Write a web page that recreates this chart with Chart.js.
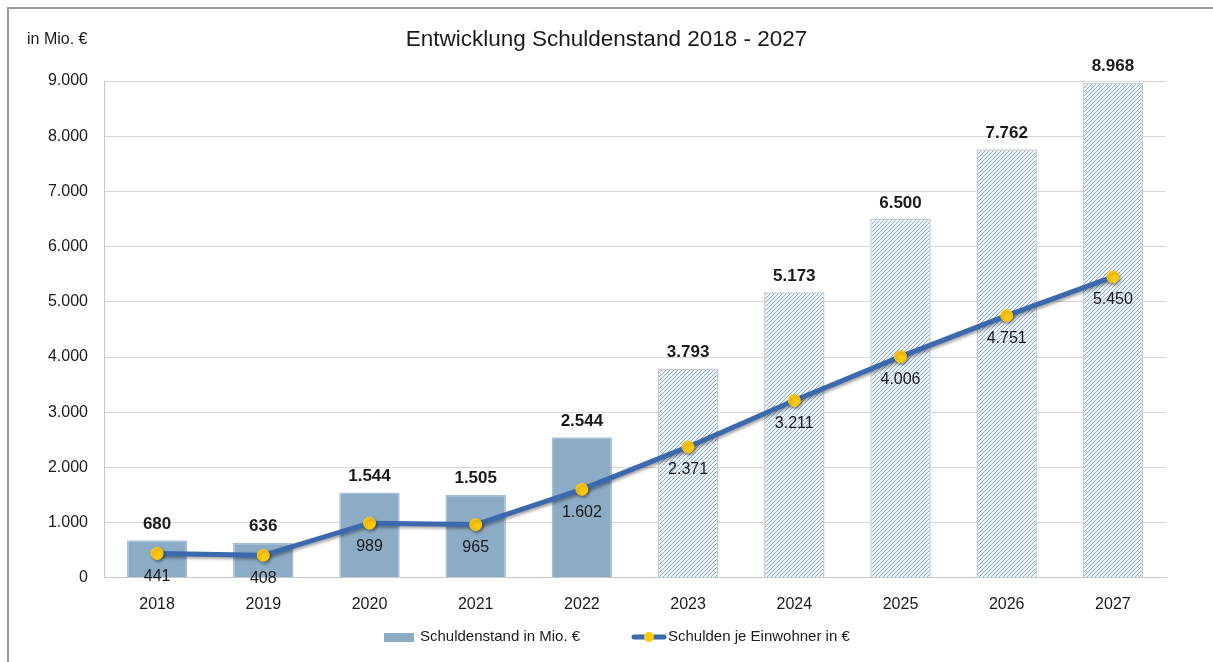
<!DOCTYPE html>
<html lang="de">
<head>
<meta charset="utf-8">
<title>Entwicklung Schuldenstand 2018 - 2027</title>
<script src="https://cdn.jsdelivr.net/npm/chart.js@4.4.1/dist/chart.umd.min.js"></script>
<style>
  html, body { margin: 0; padding: 0; background: #fff; }
  #wrap { position: relative; width: 1213px; height: 662px; overflow: hidden; }
  #frame {
    position: absolute; left: 7px; top: 7px; width: 1300px; height: 800px;
    border-left: 2px solid #9a9a9a; border-top: 2px solid #9a9a9a;
    pointer-events: none;
  }
  canvas { position: absolute; left: 0; top: 0; }
</style>
</head>
<body>
<div id="wrap">
  <canvas id="chart" width="1213" height="662"></canvas>
  <div id="frame"></div>
</div>
<script>
// ─── Data ───────────────────────────────────────────────────────────────────
const YEARS = ['2018', '2019', '2020', '2021', '2022', '2023', '2024', '2025', '2026', '2027'];
const SCHULDENSTAND = [680, 636, 1544, 1505, 2544, 3793, 5173, 6500, 7762, 8968];   // Mio. €
const JE_EINWOHNER = [441, 408, 989, 965, 1602, 2371, 3211, 4006, 4751, 5450];      // €
const FIRST_PLAN_YEAR = 2023; // from here on the bars are hatched (planned values)
const Y_TICKS = { min: 0, max: 9000, step: 1000 };

// ─── Colours ────────────────────────────────────────────────────────────────
const BAR_COLOR = '#8cabc5';
const BAR_BORDER = '#a9c0d3';
const PLAN_BORDER = '#c8cdd2';
const LINE_COLOR = '#3c69ae';
const POINT_COLOR = '#ffc90e';
const FONT = "'Liberation Sans', Arial, sans-serif";

// German thousands separator: 8968 -> "8.968"
function fmt(v) {
  return String(Math.round(v)).replace(/\B(?=(\d{3})+(?!\d))/g, '.');
}

// Diagonal hatch used for the planned years.
function hatchPattern() {
  const size = 4;
  const c = document.createElement('canvas');
  c.width = size; c.height = size;
  const g = c.getContext('2d');
  g.fillStyle = '#eef4f9';
  g.fillRect(0, 0, size, size);
  g.strokeStyle = '#8fb0cc';
  g.lineWidth = 1;
  g.beginPath();
  g.moveTo(0, size); g.lineTo(size, 0);
  g.moveTo(-1, 1); g.lineTo(1, -1);
  g.moveTo(size - 1, size + 1); g.lineTo(size + 1, size - 1);
  g.stroke();
  return document.getElementById('chart').getContext('2d').createPattern(c, 'repeat');
}

const HATCH = hatchPattern();
const isPlan = (i) => Number(YEARS[i]) >= FIRST_PLAN_YEAR;

// ─── Plugins ────────────────────────────────────────────────────────────────
// Soft shadow under the line series.
const lineShadow = {
  id: 'lineShadow',
  beforeDatasetDraw(chart, args) {
    if (chart.data.datasets[args.index].type !== 'line') return;
    const ctx = chart.ctx;
    ctx.save();
    ctx.shadowColor = 'rgba(0,0,0,0.35)';
    ctx.shadowBlur = 3;
    ctx.shadowOffsetX = 1.5;
    ctx.shadowOffsetY = 2;
  },
  afterDatasetDraw(chart, args) {
    if (chart.data.datasets[args.index].type !== 'line') return;
    chart.ctx.restore();
  },
};

// Value labels: bold above the bars, regular below the line points.
const valueLabels = {
  id: 'valueLabels',
  afterDatasetsDraw(chart) {
    const ctx = chart.ctx;
    ctx.save();
    ctx.textAlign = 'center';
    ctx.textBaseline = 'middle';
    ctx.fillStyle = '#1a1a1a';
    chart.data.datasets.forEach((ds, di) => {
      const meta = chart.getDatasetMeta(di);
      meta.data.forEach((el, i) => {
        if (ds.type === 'line') {
          ctx.font = '16px ' + FONT;
          ctx.fillText(fmt(ds.data[i]), el.x, el.y + 23);
        } else {
          ctx.font = 'bold 17px ' + FONT;
          ctx.fillText(fmt(ds.data[i]), el.x, el.y - 16);
        }
      });
    });
    ctx.restore();
  },
};

// Unit label top-left and the Excel-style legend below the axis.
const decorations = {
  id: 'decorations',
  afterDraw(chart) {
    const ctx = chart.ctx;
    const bars = chart.data.datasets.find((ds) => ds.type === 'bar');
    const line = chart.data.datasets.find((ds) => ds.type === 'line');
    ctx.save();
    ctx.fillStyle = '#1a1a1a';
    ctx.font = '16px ' + FONT;
    ctx.textBaseline = 'middle';
    ctx.textAlign = 'left';
    ctx.fillText('in Mio. €', 27, 40);

    const y = 637;
    ctx.font = '15px ' + FONT;
    // bar entry
    ctx.fillStyle = BAR_COLOR;
    ctx.fillRect(384, y - 4, 30, 9);
    ctx.fillStyle = '#1a1a1a';
    ctx.fillText(bars.label, 420, y);
    // line entry
    ctx.strokeStyle = LINE_COLOR;
    ctx.lineWidth = 5;
    ctx.lineCap = 'round';
    ctx.beginPath();
    ctx.moveTo(634, y); ctx.lineTo(664, y);
    ctx.stroke();
    ctx.fillStyle = POINT_COLOR;
    ctx.beginPath();
    ctx.arc(649, y, 5, 0, Math.PI * 2);
    ctx.fill();
    ctx.fillStyle = '#1a1a1a';
    ctx.fillText(line.label, 668, y);
    ctx.restore();
  },
};

// ─── Chart ──────────────────────────────────────────────────────────────────
new Chart(document.getElementById('chart'), {
  type: 'bar',
  data: {
    labels: YEARS,
    datasets: [
      {
        type: 'line',
        label: 'Schulden je Einwohner in €',
        data: JE_EINWOHNER,
        borderColor: LINE_COLOR,
        borderWidth: 5,
        backgroundColor: POINT_COLOR,
        pointBackgroundColor: POINT_COLOR,
        pointBorderColor: POINT_COLOR,
        pointRadius: 6,
        pointBorderWidth: 1,
        tension: 0,
        order: 0,
      },
      {
        type: 'bar',
        label: 'Schuldenstand in Mio. €',
        data: SCHULDENSTAND,
        backgroundColor: YEARS.map((_, i) => (isPlan(i) ? HATCH : BAR_COLOR)),
        borderColor: YEARS.map((_, i) => (isPlan(i) ? PLAN_BORDER : BAR_BORDER)),
        borderWidth: 1.5,
        barPercentage: 0.57,
        categoryPercentage: 1,
        order: 1,
      },
    ],
  },
  options: {
    responsive: false,
    animation: false,
    layout: { padding: { top: 0, left: 0, right: 0, bottom: 31 } },
    plugins: {
      legend: { display: false },
      tooltip: { enabled: false },
      title: {
        display: true,
        text: 'Entwicklung Schuldenstand 2018 - 2027',
        color: '#1a1a1a',
        font: { family: FONT, size: 22.5, weight: 'normal', lineHeight: 1.2 },
        padding: { top: 26, bottom: 28 },
      },
    },
    scales: {
      x: {
        grid: { display: false, drawTicks: false },
        border: { display: true, color: '#c8c8c8', width: 1 },
        ticks: { color: '#1a1a1a', padding: 17, font: { family: FONT, size: 16 } },
      },
      y: {
        min: Y_TICKS.min,
        max: Y_TICKS.max,
        grid: { color: '#d6d6d6', lineWidth: 1, drawTicks: false },
        border: { display: true, color: '#c8c8c8', width: 1 },
        ticks: {
          stepSize: Y_TICKS.step,
          padding: 16,
          color: '#1a1a1a',
          font: { family: FONT, size: 16 },
          callback: (v) => fmt(v),
        },
        afterFit(scale) { scale.width = 104; },
      },
      // empty right-hand axis: only keeps the plot clear of the right edge
      spacer: {
        type: 'linear',
        position: 'right',
        min: Y_TICKS.min,
        max: Y_TICKS.max,
        grid: { display: false, drawTicks: false },
        border: { display: false },
        ticks: { display: false },
        afterFit(scale) { scale.width = 47; },
      },
    },
  },
  plugins: [lineShadow, valueLabels, decorations],
});
</script>
</body>
</html>
